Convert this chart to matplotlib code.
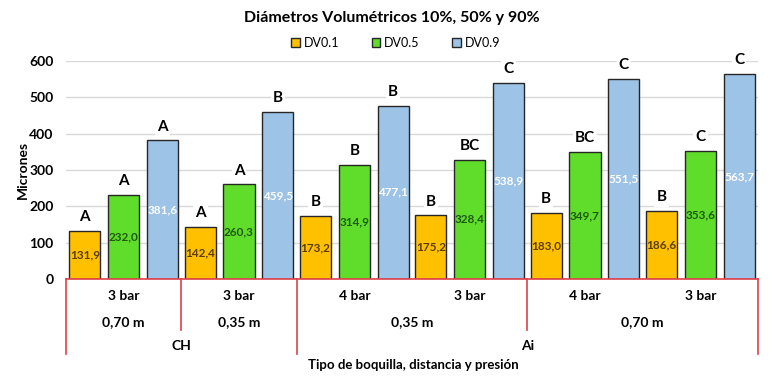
#!/usr/bin/env python3

import numpy as np
import matplotlib.pyplot as plt
from matplotlib.transforms import blended_transform_factory

plt.rcParams['font.family'] = ['Lato', 'DejaVu Sans']

# presion / distancia / boquilla
PRESION = ["3 bar", "3 bar", "4 bar", "3 bar", "4 bar", "3 bar"]
DISTANCIA = ["0,70 m", "0,35 m", "0,35 m", "0,70 m"]
DIST_SPAN = [(0, 0), (1, 1), (2, 3), (4, 5)]
BOQUILLA = ["CH", "Ai"]
BOQ_SPAN = [(0, 1), (2, 5)]

dv01 = [131.9, 142.4, 173.2, 175.2, 183.0, 186.6]
dv05 = [232.0, 260.3, 314.9, 328.4, 349.7, 353.6]
dv09 = [381.6, 459.5, 477.1, 538.9, 551.5, 563.7]
let01 = ["A", "A", "B", "B", "B", "B"]
let05 = ["A", "A", "B", "BC", "BC", "C"]
let09 = ["A", "B", "B", "C", "C", "C"]

RED = "#e0404a"

fig = plt.figure(figsize=(7.79, 3.78), dpi=100)
ax = fig.add_axes([66/779, 1 - 279/378, 692/779, 218/378])

x = np.arange(len(dv01))
W = 0.27
OFF = 0.337
series = [
    (dv01, let01, "#ffc000", "#5c3d00", "DV0.1", -OFF),
    (dv05, let05, "#5fdd2a", "#1f5a12", "DV0.5", 0.0),
    (dv09, let09, "#9dc3e6", "white", "DV0.9", OFF),
]
for vals, lets, col, tcol, lab, off in series:
    bars = ax.bar(x + off, vals, W, color=col, edgecolor="#262626",
                  linewidth=1.0, label=lab, zorder=2)
    for b, v, l in zip(bars, vals, lets):
        cx = b.get_x() + b.get_width() / 2
        ax.text(cx, v / 2, f"{v:.1f}".replace(".", ","), ha="center",
                va="center", fontsize=8.5, fontweight="bold", color=tcol,
                zorder=3)
        ax.text(cx, v + 38, l, ha="center", va="center", fontsize=11,
                fontweight="bold", color="black", zorder=3,
                bbox=dict(facecolor="white", edgecolor="none", pad=1.5))

ax.set_xlim(-0.5, 5.5)
ax.set_ylim(0, 600)
ax.set_yticks(range(0, 601, 100))
ax.tick_params(axis="y", length=0, labelsize=10, pad=9)
for t in ax.get_yticklabels():
    t.set_fontweight("bold")
ax.set_xticks([])
ax.grid(axis="y", color="#d9d9d9", linewidth=1, zorder=0)
for s in ["left", "right", "top"]:
    ax.spines[s].set_visible(False)
ax.spines["bottom"].set_color(RED)
ax.spines["bottom"].set_linewidth(1.2)
ax.spines["bottom"].set_zorder(4)
ax.set_ylabel("Micrones", fontsize=10, fontweight="bold")
ax.yaxis.set_label_coords(-37/692, 0.5)

# multilevel category axis
tr = blended_transform_factory(ax.transData, ax.transAxes)
for i, p in enumerate(PRESION):
    ax.text(i, -0.078, p, transform=tr, ha="center", va="center",
            fontsize=10, fontweight="bold")
for d, (a, b) in zip(DISTANCIA, DIST_SPAN):
    ax.text((a + b) / 2, -0.197, d, transform=tr, ha="center", va="center",
            fontsize=10, fontweight="bold")
for n, (a, b) in zip(BOQUILLA, BOQ_SPAN):
    ax.text((a + b) / 2, -0.307, n, transform=tr, ha="center", va="center",
            fontsize=10, fontweight="bold")
for xv in [-0.5, 1.5, 5.5]:
    ax.plot([xv, xv], [0, -0.344], transform=tr, color=RED, lw=1.2,
            clip_on=False)
for xv in [0.5, 3.5]:
    ax.plot([xv, xv], [0, -0.234], transform=tr, color=RED, lw=1.2,
            clip_on=False)

fig.text(0.53, 1 - 365/378, "Tipo de boquilla, distancia y presión",
         ha="center", va="center", fontsize=9.5, fontweight="bold")
fig.text(0.503, 1 - 18/378, "Diámetros Volumétricos 10%, 50% y 90%",
         ha="center", va="center", fontsize=11.5, fontweight="bold")
fig.legend(loc="center", bbox_to_anchor=(0.508, 1 - 43/378), ncol=3,
           frameon=False, fontsize=9, handlelength=0.7, handleheight=0.7,
           columnspacing=2.6, handletextpad=0.3)

fig.savefig("out.png", dpi=100)
